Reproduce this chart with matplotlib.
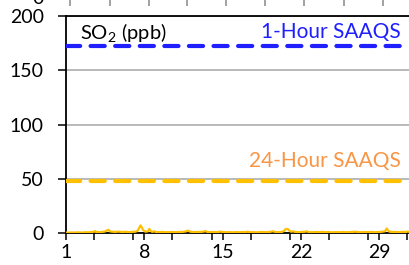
import matplotlib
matplotlib.use('Agg')
import matplotlib.pyplot as plt
from matplotlib.ticker import MultipleLocator

plt.rcParams['font.family'] = ['Lato', 'DejaVu Sans']
plt.rcParams['mathtext.fontset'] = 'custom'
plt.rcParams['mathtext.rm'] = 'Lato'

##### data #####

so2_day = [1.0, 1.25, 1.5, 1.75, 2.0, 2.25, 2.5, 2.75, 3.0, 3.25, 3.5, 3.6, 3.7,
           4.0, 4.25, 4.5, 4.7, 4.8, 4.9, 5.1, 5.4, 5.7, 6.0, 6.3, 6.6, 6.9,
           7.2, 7.4, 7.55, 7.65, 7.75, 7.9, 8.1, 8.3, 8.45, 8.55, 8.7, 8.9,
           9.0, 9.3, 9.6, 9.9, 10.2, 10.5, 10.8, 11.1, 11.4, 11.7, 11.9, 12.1,
           12.4, 12.7, 13.0, 13.3, 13.45, 13.6, 13.9, 14.2, 14.5, 14.8, 15.0,
           15.3, 15.6, 15.9, 16.2, 16.5, 16.8, 17.1, 17.25, 17.4, 17.7, 18.0,
           18.3, 18.6, 18.9, 19.2, 19.5, 19.7, 20.0, 20.3, 20.5, 20.6, 20.7,
           20.85, 20.95, 21.1, 21.3, 21.5, 21.8, 22.1, 22.4, 22.5, 22.7, 23.0,
           23.3, 23.6, 23.9, 24.2, 24.5, 24.8, 25.1, 25.4, 25.7, 26.0, 26.3,
           26.6, 26.9, 27.1, 27.4, 27.7, 28.0, 28.3, 28.6, 28.9, 29.2, 29.5,
           29.65, 29.75, 29.9, 30.2, 30.5, 30.8, 31.1, 31.4, 31.5, 31.7, 32.0]
so2_ppb = [0.4, 0.3, 0.5, 0.4, 0.6, 0.5, 0.4, 0.7, 0.6, 0.8, 1.2, 1.8, 1.0,
           0.8, 1.0, 1.4, 2.6, 3.0, 1.6, 1.2, 1.0, 1.3, 0.9, 1.1, 0.8, 1.0,
           1.2, 2.0, 5.0, 7.0, 5.5, 2.5, 1.2, 1.5, 3.8, 2.0, 1.0, 1.6,
           0.9, 0.8, 1.0, 0.7, 0.8, 0.9, 0.7, 0.9, 1.0, 1.4, 2.2, 1.2,
           0.8, 1.0, 0.9, 1.3, 1.8, 1.0, 0.8, 0.9, 0.7, 1.3, 0.9,
           0.7, 0.8, 0.6, 0.8, 0.7, 0.9, 0.8, 1.3, 0.7, 0.8, 0.6,
           0.8, 0.9, 0.7, 1.0, 1.6, 0.9, 0.8, 1.0, 2.0, 3.5, 3.8,
           3.4, 2.2, 1.2, 1.5, 0.9, 0.8, 1.0, 1.2, 1.6, 0.8, 0.7,
           0.9, 0.8, 1.0, 0.7, 0.9, 0.6, 0.8, 0.7, 0.9, 0.7, 0.8,
           1.0, 1.2, 0.8, 0.7, 0.9, 0.8, 1.0, 0.7, 0.9, 1.1, 1.6,
           4.2, 2.5, 1.2, 0.9, 1.0, 0.8, 1.1, 0.9, 1.4, 1.0, 0.8]

# Alberta ambient air quality objectives (ppb)
saaqs_1h = 172
saaqs_24h = 48

day_ticks = [1, 8, 15, 22, 29]
top_ticks = [1.4, 4.9, 8.4, 11.8, 15.3, 18.8, 22.3, 25.8, 29.3]

blue = '#1f1fff'
gold = '#ffc000'
orange = '#f79646'

##### plot #####

fig = plt.figure(figsize=(4.09, 2.65), dpi=100)
ax = fig.add_axes([66/409, 32/265, 347/409, 217/265])

# dashed limit lines
dash = dict(lw=3.0, dashes=(3.4, 2.5), dash_capstyle='round', zorder=4)
ax.axhline(saaqs_1h, color=blue, **dash)
ax.axhline(saaqs_24h, color=gold, **dash)

ax.plot(so2_day, so2_ppb, color=gold, lw=1.6, zorder=5)

ax.set_xlim(1, 32)
ax.set_ylim(0, 200)
ax.set_xticks(day_ticks)
ax.xaxis.set_minor_locator(MultipleLocator(3.5))
ax.yaxis.set_major_locator(MultipleLocator(50))
ax.grid(axis='y', color='#a6a6a6', lw=1.1, zorder=1)
ax.set_axisbelow(True)

for s in ['left', 'bottom', 'top']:
    ax.spines[s].set_linewidth(1.3)
    ax.spines[s].set_color('black')
ax.spines['right'].set_visible(False)

ax.tick_params(axis='y', length=6, width=1.1, pad=10, labelsize=14)
ax.tick_params(axis='x', which='both', length=5, width=1.1, pad=3, labelsize=14)

ax.text(2.25, 178, 'SO$_\\mathrm{2}$ (ppb)', fontsize=14.5, va='baseline', ha='left')
ax.text(30.9, 180, '1-Hour SAAQS', color=blue, fontsize=15, va='baseline', ha='right')
ax.text(30.9, 61, '24-Hour SAAQS', color=orange, fontsize=15, va='baseline', ha='right')

# bits of the panel above that show at the top edge
ax_up = fig.add_axes([66/409, 1 + 1/265, 347/409, 0.3])
ax_up.set_xlim(1, 32)
ax_up.set_xticks(top_ticks)
ax_up.set_xticklabels([])
ax_up.set_yticks([])
ax_up.tick_params(axis='x', length=5, width=1.1, color='#888888')
for s in ax_up.spines.values():
    s.set_visible(False)
fig.text(44/409, 1.0 + 2/265, '0', fontsize=14, ha='right', va='center')

fig.savefig('out.png', dpi=100)
